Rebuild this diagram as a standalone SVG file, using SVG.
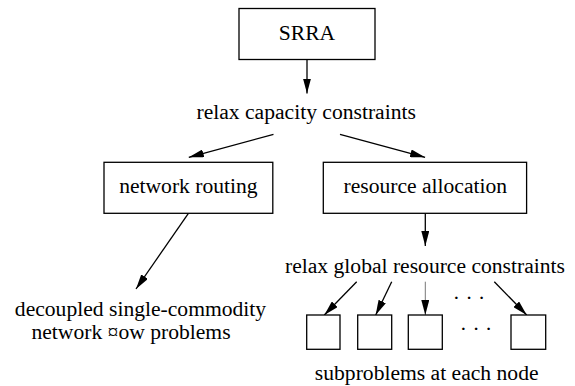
<svg xmlns="http://www.w3.org/2000/svg" width="575" height="386" viewBox="0 0 575 386">
<style>
text{font-family:"Liberation Serif","Times New Roman",serif;font-size:21.6px;fill:#000;text-anchor:middle}
.box{fill:#fff;stroke:#000;stroke-width:1.3}
.edge{stroke:#000;stroke-width:1.3;fill:none;marker-end:url(#ah)}
.grey{stroke:#777;stroke-width:1}
</style>
<defs>
<marker id="ah" viewBox="0 0 15 8" refX="15" refY="4" markerWidth="15" markerHeight="8" markerUnits="userSpaceOnUse" orient="auto">
<path d="M0,0 L15,4 L0,8 z" fill="#000"/>
</marker>
</defs>
<rect width="575" height="386" fill="#fff"/>
<g id="connectors">
<line class="edge" x1="307" y1="60" x2="307" y2="93.5"/>
<line class="edge" x1="273.5" y1="134.3" x2="188.8" y2="157.3"/>
<line class="edge" x1="340" y1="134.3" x2="425.1" y2="157.3"/>
<line class="edge" x1="188.4" y1="213.3" x2="136" y2="289"/>
<line class="edge" x1="425.3" y1="213.3" x2="425.3" y2="246"/>
<line class="edge" x1="356.7" y1="281.7" x2="324.3" y2="315"/>
<line class="edge" x1="391.7" y1="281.7" x2="375.7" y2="315"/>
<line class="edge grey" x1="425.3" y1="281.7" x2="425.3" y2="315"/>
<line class="edge" x1="494.3" y1="281.7" x2="526.7" y2="315"/>
</g>
<g id="srra"><rect class="box" x="239" y="8.5" width="136" height="51"/><text x="307" y="40">SRRA</text></g>
<g id="relax-capacity"><text x="306.2" y="119">relax capacity constraints</text></g>
<g id="network-routing"><rect class="box" x="104" y="162.3" width="168.8" height="51"/><text x="188.4" y="192.7">network routing</text></g>
<g id="resource-allocation"><rect class="box" x="323.3" y="162.3" width="203.3" height="51"/><text x="425.3" y="192.7">resource allocation</text></g>
<g id="decoupled"><text x="140.5" y="316">decoupled single-commodity</text><text x="131" y="339">network ¤ow problems</text></g>
<g id="relax-global"><text x="425" y="273.3">relax global resource constraints</text></g>
<g id="sub1"><rect class="box" x="306.7" y="315" width="33.3" height="34.3"/></g>
<g id="sub2"><rect class="box" x="357.7" y="315" width="34" height="34.3"/></g>
<g id="sub3"><rect class="box" x="408.3" y="315" width="34" height="34.3"/></g>
<g id="dots"><text x="469" y="304.5">· · ·</text><text x="476" y="336">· · ·</text></g>
<g id="subn"><rect class="box" x="511" y="315" width="34.7" height="34.3"/></g>
<g id="subproblems"><text x="426.7" y="380">subproblems at each node</text></g>
</svg>
